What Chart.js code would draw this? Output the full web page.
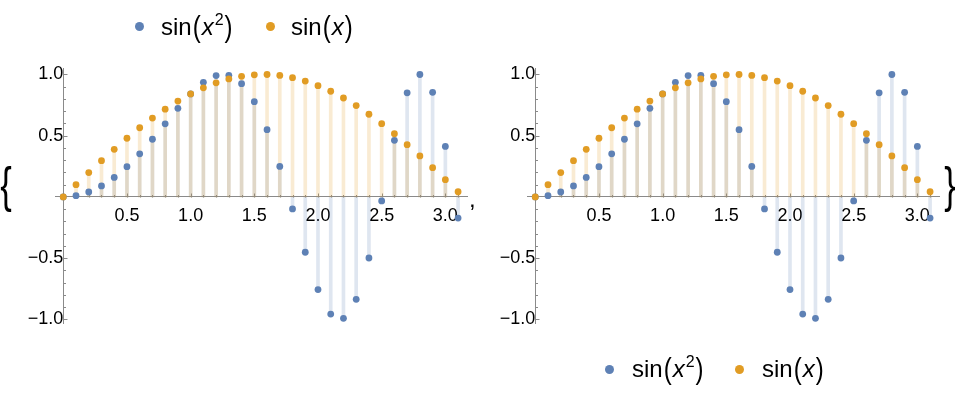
<!DOCTYPE html>
<html>
<head>
<meta charset="utf-8">
<script src="https://cdn.jsdelivr.net/npm/chart.js@4.4.0/dist/chart.umd.min.js"></script>
<style>
  body { margin: 0; background: #fff; width: 955px; height: 397px; overflow: hidden; position: relative; font-family: "Liberation Sans", Arial, sans-serif; color: #000; }
  .wrap { position: absolute; top: 0; width: 478px; height: 397px; }
  .txt { position: absolute; white-space: nowrap; z-index: 2; }
  .legend { font-size: 24px; line-height: 24px; }
  .legend i { font-style: italic; }
  .legend .p { display: inline-block; transform: scale(1, 1.25); margin: 0 1px; }
  .legend sup { font-size: 16px; line-height: 0; vertical-align: 10px; margin-left: 1px; }
  .dot { position: absolute; width: 9px; height: 9px; border-radius: 50%; z-index: 2; }
  .brace { font-size: 30px; line-height: 30px; transform: scale(1.15, 1.65); transform-origin: 50% 50%; }
  .comma { font-size: 24px; line-height: 24px; }
</style>
</head>
<body>
<div class="wrap" style="left:0"><canvas id="chart1" width="478" height="397"></canvas></div>
<div class="wrap" style="left:472px"><canvas id="chart2" width="478" height="397"></canvas></div>

<!-- legend of the first plot (top) -->
<div class="dot" style="left:135px; top:22px; background:#5E81B5"></div>
<div class="txt legend" style="left:161px; top:15px">sin<span class="p">(</span><i>x</i><sup>2</sup><span class="p">)</span></div>
<div class="dot" style="left:266px; top:22px; background:#E19C24"></div>
<div class="txt legend" style="left:291px; top:15px">sin<span class="p">(</span><i>x</i><span class="p">)</span></div>

<!-- legend of the second plot (bottom) -->
<div class="dot" style="left:605px; top:365px; background:#5E81B5"></div>
<div class="txt legend" style="left:632px; top:357px">sin<span class="p">(</span><i>x</i><sup>2</sup><span class="p">)</span></div>
<div class="dot" style="left:735px; top:365px; background:#E19C24"></div>
<div class="txt legend" style="left:762px; top:357px">sin<span class="p">(</span><i>x</i><span class="p">)</span></div>

<!-- list braces and separator -->
<div class="txt brace" style="left:1px; top:171px">{</div>
<div class="txt comma" style="left:469px; top:187px">,</div>
<div class="txt brace" style="left:945px; top:171px">}</div>

<script>
const BLUE = "#5E81B5";
const ORANGE = "#E19C24";
const AXIS = "#8a8a8a";

const xValues = [0, 0.1, 0.2, 0.3, 0.4, 0.5, 0.6, 0.7, 0.8, 0.9, 1.0, 1.1, 1.2, 1.3, 1.4, 1.5,
  1.6, 1.7, 1.8, 1.9, 2.0, 2.1, 2.2, 2.3, 2.4, 2.5, 2.6, 2.7, 2.8, 2.9, 3.0, 3.1];

const sinXSquared = [0, 0.01, 0.04, 0.09, 0.159, 0.247, 0.352, 0.471, 0.597, 0.724, 0.841, 0.936,
  0.991, 0.993, 0.925, 0.778, 0.549, 0.249, -0.098, -0.452, -0.757, -0.957, -0.992, -0.837,
  -0.499, -0.033, 0.462, 0.850, 1.0, 0.854, 0.412, -0.173];

const sinX = [0, 0.1, 0.199, 0.296, 0.389, 0.479, 0.565, 0.644, 0.717, 0.783, 0.841, 0.891,
  0.932, 0.964, 0.985, 0.997, 1.0, 0.992, 0.974, 0.946, 0.909, 0.863, 0.808, 0.746,
  0.675, 0.598, 0.516, 0.427, 0.335, 0.239, 0.141, 0.042];

const xTickValues = [0.5, 1.0, 1.5, 2.0, 2.5, 3.0];
const xTickLabels = ["0.5", "1.0", "1.5", "2.0", "2.5", "3.0"];
const yTickValues = [-1.0, -0.5, 0.5, 1.0];
const yTickLabels = ["\u22121.0", "\u22120.5", "0.5", "1.0"];

// small inward ticks, the way Mathematica draws its axes
const mathTicks = {
  id: "mathTicks",
  beforeDatasetsDraw(chart) {
    const { ctx, scales: { x, y } } = chart;
    const x0 = Math.round(x.getPixelForValue(0)) + 0.5;
    const y0 = Math.round(y.getPixelForValue(0)) + 0.5;
    ctx.save();
    ctx.strokeStyle = AXIS;
    ctx.lineWidth = 1;
    ctx.beginPath();
    for (let i = 1; i <= 31; i++) {
      const px = Math.round(x.getPixelForValue(i / 10)) + 0.5;
      const len = i % 5 === 0 ? 4 : 2.5;
      ctx.moveTo(px, y0);
      ctx.lineTo(px, y0 - len);
    }
    for (let i = -10; i <= 10; i++) {
      if (i === 0) continue;
      const py = Math.round(y.getPixelForValue(i / 10)) + 0.5;
      const len = i % 5 === 0 ? 4 : 2.5;
      ctx.moveTo(x0, py);
      ctx.lineTo(x0 + len, py);
    }
    ctx.stroke();
    ctx.restore();
  }
};

function toPoints(ys) {
  return xValues.map((x, i) => ({ x: x, y: ys[i] }));
}

function buildChart(canvasId) {
  const tickFont = { family: "'Liberation Sans', Arial, sans-serif", size: 18 };
  return new Chart(document.getElementById(canvasId), {
    type: "scatter",
    data: {
      datasets: [
        { type: "bar", data: toPoints(sinXSquared), backgroundColor: "rgba(94,129,181,0.2)",
          barThickness: 3, grouped: false, order: 4 },
        { type: "bar", data: toPoints(sinX), backgroundColor: "rgba(225,156,36,0.2)",
          barThickness: 3, grouped: false, order: 3 },
        { label: "sin(x\u00b2)", data: toPoints(sinXSquared), backgroundColor: BLUE,
          pointRadius: 3.4, borderWidth: 0, clip: false, order: 2 },
        { label: "sin(x)", data: toPoints(sinX), backgroundColor: ORANGE,
          pointRadius: 3.4, borderWidth: 0, clip: false, order: 1 },
      ],
    },
    options: {
      responsive: false,
      animation: false,
      events: [],
      layout: { padding: { left: 55, right: 11, top: 68, bottom: 74 } },
      plugins: { legend: { display: false }, tooltip: { enabled: false } },
      scales: {
        x: {
          type: "linear",
          min: -0.065,
          max: 3.17,
          offset: false,
          position: { y: 0 },
          grid: { display: false, drawTicks: false, offset: false },
          border: { color: AXIS, width: 1 },
          afterBuildTicks: (scale) => { scale.ticks = xTickValues.map((v) => ({ value: v })); },
          afterFit: (scale) => { scale.height = 0; scale.paddingLeft = 0; scale.paddingRight = 0; },
          ticks: { callback: (v, i) => xTickLabels[i], font: tickFont, color: "#000",
            padding: 8, maxRotation: 0, autoSkip: false },
        },
        y: {
          type: "linear",
          min: -1.03,
          max: 1.053,
          position: { x: 0 },
          grid: { display: false, drawTicks: false },
          border: { color: AXIS, width: 1 },
          afterBuildTicks: (scale) => { scale.ticks = yTickValues.map((v) => ({ value: v })); },
          afterFit: (scale) => { scale.width = 0; scale.paddingTop = 0; scale.paddingBottom = 0; },
          ticks: { callback: (v, i) => yTickLabels[i], font: tickFont, color: "#000",
            padding: 7, autoSkip: false },
        },
      },
    },
    plugins: [mathTicks],
  });
}

buildChart("chart1");
buildChart("chart2");
</script>
</body>
</html>
